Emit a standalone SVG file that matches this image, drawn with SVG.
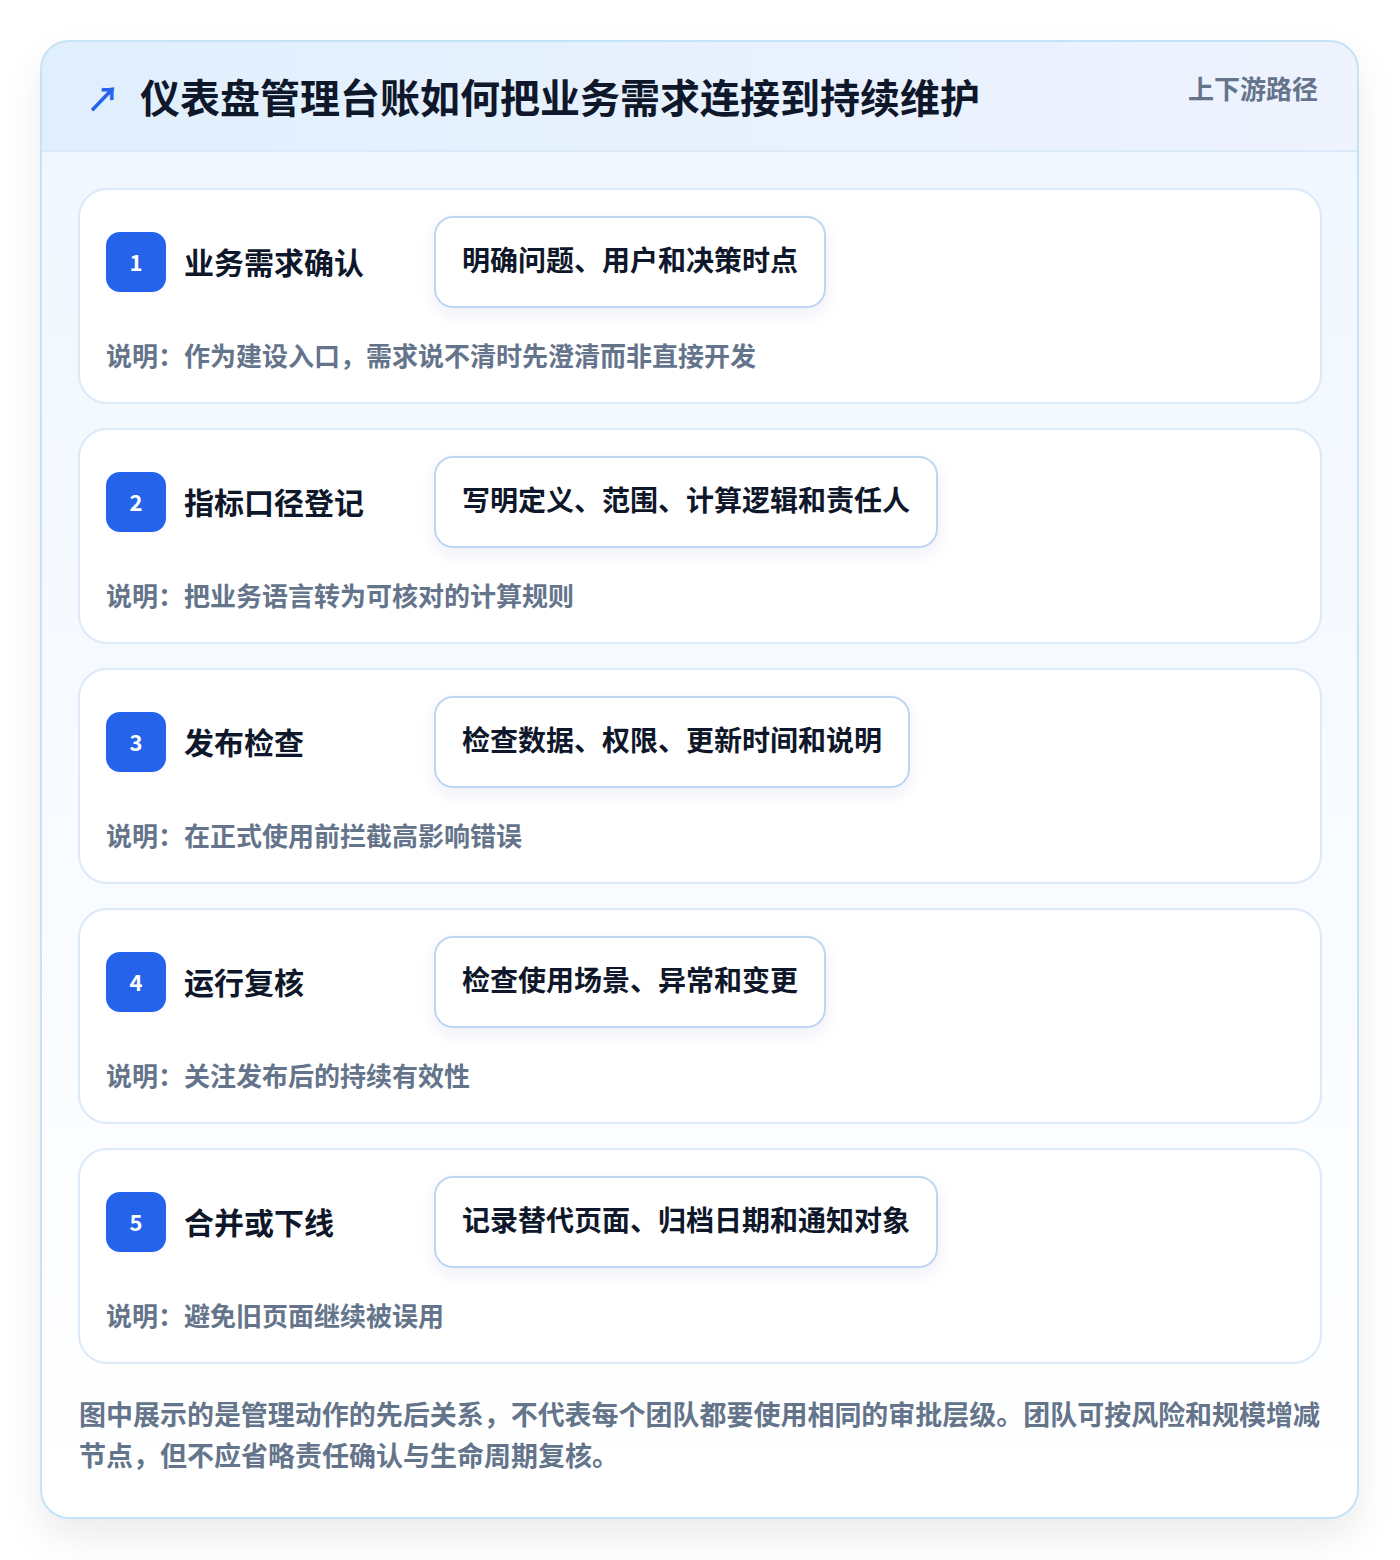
<svg xmlns="http://www.w3.org/2000/svg" width="1400" height="1560" viewBox="0 0 1400 1560">
<defs>
<style>
.t{font-family:"Noto Sans CJK SC","Liberation Sans",sans-serif;font-weight:700}
.card{fill:#ffffff;stroke:#dbe9f8;stroke-width:2}
.badge{fill:#2563eb}
.num{font-size:22px;fill:#ffffff;text-anchor:middle}
.title{font-size:30px;fill:#0f172a}
.pill{fill:#ffffff;stroke:#bfd6f3;stroke-width:2}
.ptxt{font-size:28px;fill:#0f172a}
.desc{font-size:26px;fill:#64748b}
.foot{font-size:27px;fill:#64748b}
</style>
<linearGradient id="hdr" x1="0" y1="0" x2="1" y2="0">
<stop offset="0" stop-color="#e0effd"/>
<stop offset="1" stop-color="#eef3fe"/>
</linearGradient>
<linearGradient id="body" x1="0" y1="0" x2="0" y2="1">
<stop offset="0" stop-color="#f1f7ff"/>
<stop offset="1" stop-color="#ffffff"/>
</linearGradient>
<filter id="sh" x="-10%" y="-10%" width="120%" height="120%">
<feDropShadow dx="0" dy="18" stdDeviation="18" flood-color="#0f172a" flood-opacity="0.08"/>
</filter>
<filter id="psh" x="-20%" y="-30%" width="140%" height="170%">
<feDropShadow dx="0" dy="6" stdDeviation="8" flood-color="#1e3a8a" flood-opacity="0.07"/>
</filter>
<clipPath id="cc"><rect x="41" y="41" width="1317" height="1477" rx="28"/></clipPath>
</defs>
<rect x="0" y="0" width="1400" height="1560" fill="#ffffff"/>
<g id="frame">
<rect x="41" y="41" width="1317" height="1477" rx="28" fill="#ffffff" filter="url(#sh)"/>
<g clip-path="url(#cc)">
<rect x="41" y="151" width="1317" height="1367" fill="url(#body)"/>
<rect x="41" y="41" width="1317" height="110" fill="url(#hdr)"/>
<line x1="41" y1="151" x2="1358" y2="151" stroke="#dbe9f8" stroke-width="2"/>
</g>
<rect x="41" y="41" width="1317" height="1477" rx="28" fill="none" stroke="#c5e3f6" stroke-width="2"/>
</g>
<g id="header">
<text class="t" x="86" y="112" font-size="34" fill="#2563eb">↗</text>
<text class="t" x="140" y="113" font-size="40" fill="#0f172a">仪表盘管理台账如何把业务需求连接到持续维护</text>
<text class="t" x="1318" y="99" font-size="26" fill="#64748b" text-anchor="end">上下游路径</text>
</g>
<g id="connectors"></g>
<g id="step1">
<rect class="card" x="79" y="189" width="1242" height="214" rx="28"/>
<rect class="badge" x="106" y="232" width="60" height="60" rx="14"/>
<text class="t num" x="136" y="271">1</text>
<text class="t title" x="184" y="274">业务需求确认</text>
<rect class="pill" x="435" y="217" width="390" height="90" rx="18" filter="url(#psh)"/>
<text class="t ptxt" x="462" y="271">明确问题、用户和决策时点</text>
<text class="t desc" x="106" y="366">说明：作为建设入口，需求说不清时先澄清而非直接开发</text>
</g>
<g id="step2">
<rect class="card" x="79" y="429" width="1242" height="214" rx="28"/>
<rect class="badge" x="106" y="472" width="60" height="60" rx="14"/>
<text class="t num" x="136" y="511">2</text>
<text class="t title" x="184" y="514">指标口径登记</text>
<rect class="pill" x="435" y="457" width="502" height="90" rx="18" filter="url(#psh)"/>
<text class="t ptxt" x="462" y="511">写明定义、范围、计算逻辑和责任人</text>
<text class="t desc" x="106" y="606">说明：把业务语言转为可核对的计算规则</text>
</g>
<g id="step3">
<rect class="card" x="79" y="669" width="1242" height="214" rx="28"/>
<rect class="badge" x="106" y="712" width="60" height="60" rx="14"/>
<text class="t num" x="136" y="751">3</text>
<text class="t title" x="184" y="754">发布检查</text>
<rect class="pill" x="435" y="697" width="474" height="90" rx="18" filter="url(#psh)"/>
<text class="t ptxt" x="462" y="751">检查数据、权限、更新时间和说明</text>
<text class="t desc" x="106" y="846">说明：在正式使用前拦截高影响错误</text>
</g>
<g id="step4">
<rect class="card" x="79" y="909" width="1242" height="214" rx="28"/>
<rect class="badge" x="106" y="952" width="60" height="60" rx="14"/>
<text class="t num" x="136" y="991">4</text>
<text class="t title" x="184" y="994">运行复核</text>
<rect class="pill" x="435" y="937" width="390" height="90" rx="18" filter="url(#psh)"/>
<text class="t ptxt" x="462" y="991">检查使用场景、异常和变更</text>
<text class="t desc" x="106" y="1086">说明：关注发布后的持续有效性</text>
</g>
<g id="step5">
<rect class="card" x="79" y="1149" width="1242" height="214" rx="28"/>
<rect class="badge" x="106" y="1192" width="60" height="60" rx="14"/>
<text class="t num" x="136" y="1231">5</text>
<text class="t title" x="184" y="1234">合并或下线</text>
<rect class="pill" x="435" y="1177" width="502" height="90" rx="18" filter="url(#psh)"/>
<text class="t ptxt" x="462" y="1231">记录替代页面、归档日期和通知对象</text>
<text class="t desc" x="106" y="1326">说明：避免旧页面继续被误用</text>
</g>
<g id="footer">
<text class="t foot" x="79" y="1425" textLength="1241" lengthAdjust="spacingAndGlyphs">图中展示的是管理动作的先后关系，不代表每个团队都要使用相同的审批层级。团队可按风险和规模增减</text>
<text class="t foot" x="79" y="1466">节点，但不应省略责任确认与生命周期复核。</text>
</g>
</svg>
